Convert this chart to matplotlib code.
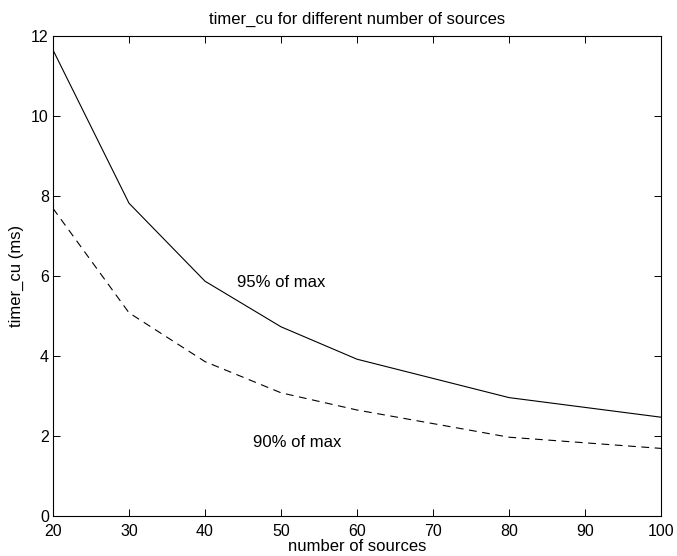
import matplotlib
matplotlib.use('Agg')
import matplotlib.pyplot as plt

# data
sources = [20, 30, 40, 50, 60, 80, 100]
timer_95 = [11.65, 7.82, 5.87, 4.73, 3.92, 2.96, 2.47]
timer_90 = [7.69, 5.08, 3.86, 3.08, 2.65, 1.97, 1.69]

plt.rcParams['font.family'] = ['Liberation Sans', 'DejaVu Sans']
plt.rcParams['font.size'] = 12

fig = plt.figure(figsize=(6.77, 5.56), dpi=100)
ax = fig.add_axes([53 / 677, 1 - 516 / 556, 608 / 677, 480 / 556])

ax.plot(sources, timer_95, color='black', linewidth=0.8)
ax.plot(sources, timer_90, color='black', linewidth=0.8, dashes=(7, 5))

ax.text(44.2, 5.83, '95% of max', va='center', ha='left', fontsize=12)
ax.text(46.3, 1.83, '90% of max', va='center', ha='left', fontsize=12)

ax.set_xlim(20, 100)
ax.set_ylim(0, 12)
ax.set_xticks(range(20, 101, 10))
ax.set_yticks(range(0, 13, 2))
ax.tick_params(direction='in', length=4.8, width=0.7, top=True, right=True,
               labelsize=11.5)
ax.tick_params(axis='x', pad=6)
ax.tick_params(axis='y', pad=3)
for sp in ax.spines.values():
    sp.set_linewidth(0.8)

ax.set_title('timer_cu for different number of sources', fontsize=12, pad=9)
ax.set_xlabel('number of sources', fontsize=12, labelpad=0)
ax.set_ylabel('timer_cu (ms)', fontsize=12, labelpad=5)

fig.savefig('out.png', dpi=100)
